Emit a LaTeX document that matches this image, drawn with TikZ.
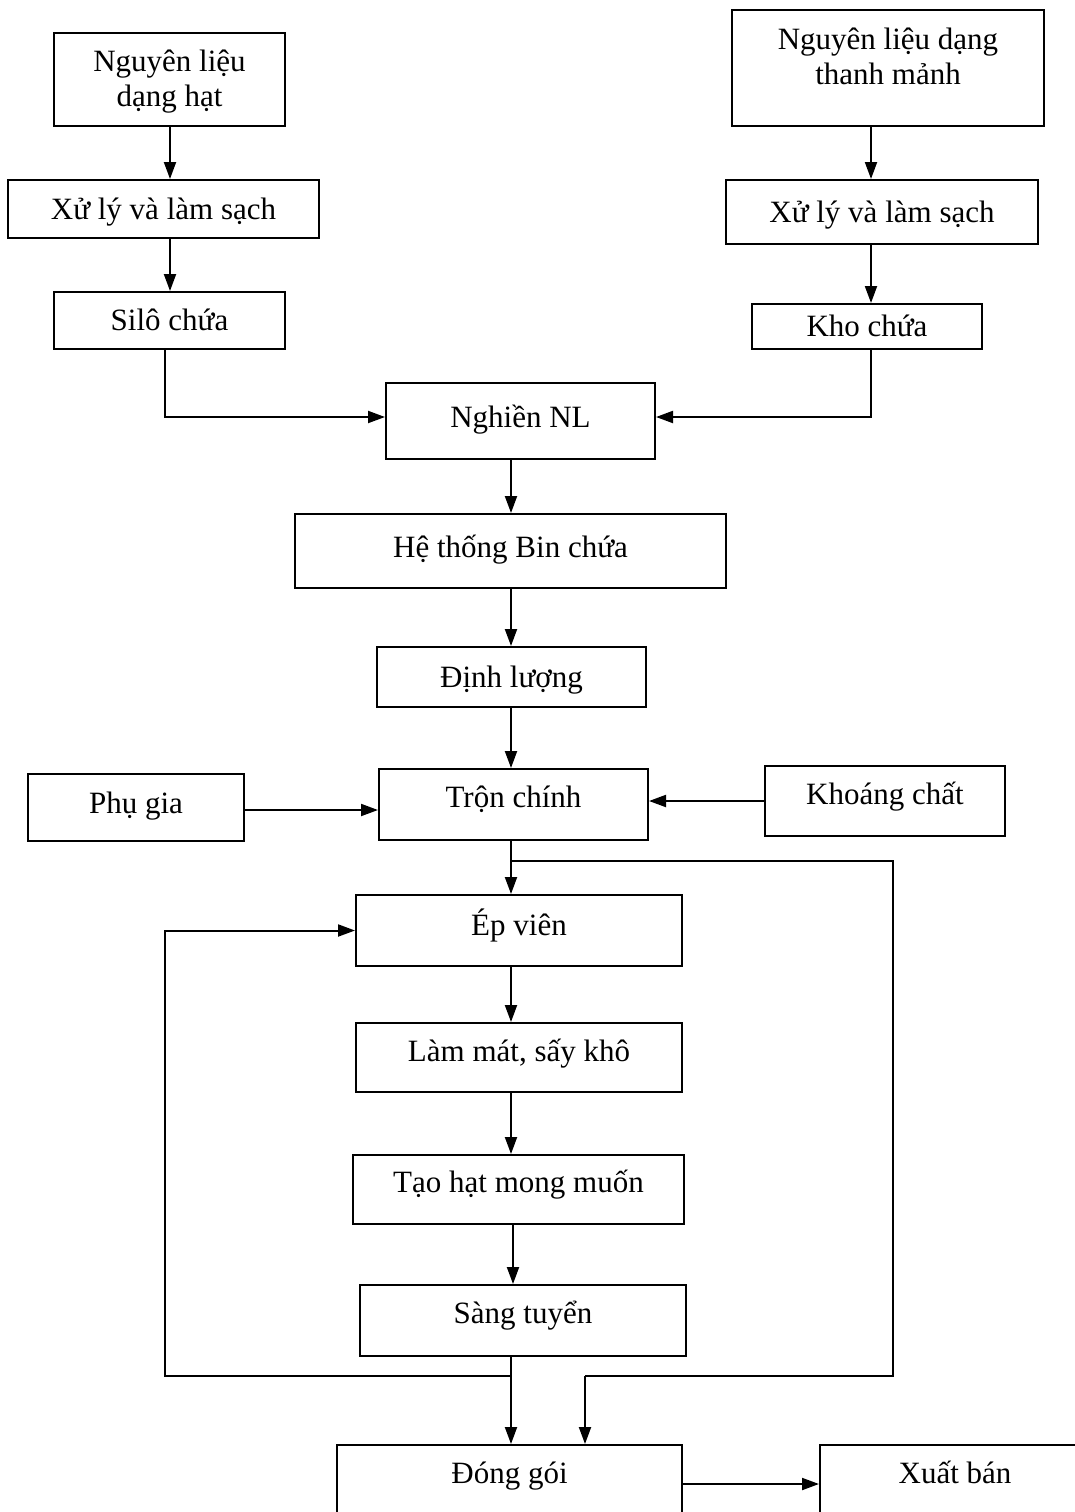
\documentclass[tikz,border=0pt]{standalone}
\usepackage{fontspec}
\setmainfont{Liberation Serif}
\usetikzlibrary{arrows.meta}
\begin{document}
\begin{tikzpicture}[x=1pt,y=-1pt,
  box/.style={draw, line width=2pt, inner sep=0pt, text height=27pt, text depth=7pt,
    font=\fontsize{31}{35}\selectfont},
  twoline/.style={draw, line width=2pt, inner sep=0pt, align=center,
    font=\fontsize{31}{35}\selectfont},
  raisetext/.style={text depth=#1},
  conn/.style={line width=2pt},
  arr/.style={line width=2pt, -{Triangle[length=17pt,width=12pt]}}]
\useasboundingbox (0,0) rectangle (1075,1512);
% nodes
\node[twoline, minimum width=231, minimum height=93,
  label={[yshift=-2.5pt, align=center, font=\fontsize{31}{35}\selectfont]center:Nguyên liệu\\dạng hạt}]
  (b1) at (169.5,79.5) {};
\node[twoline, minimum width=312, minimum height=116,
  label={[yshift=12pt, align=center, font=\fontsize{31}{35}\selectfont]center:Nguyên liệu dạng\\thanh mảnh}]
  (b2) at (888,68) {};
\node[box, minimum width=311, minimum height=58] (b3) at (163.5,209) {Xử lý và làm sạch};
\node[box, minimum width=312, minimum height=64] (b4) at (882,212) {Xử lý và làm sạch};
\node[box, minimum width=231, minimum height=57] (b5) at (169.5,320.5) {Silô chứa};
\node[box, minimum width=230, minimum height=45] (b6) at (867,326.5) {Kho chứa};
\node[box, raisetext=15pt, minimum width=269, minimum height=76] (b7) at (520.5,421) {Nghiền NL};
\node[box, raisetext=15pt, minimum width=431, minimum height=74] (b8) at (510.5,551) {Hệ thống Bin chứa};
\node[box, minimum width=269, minimum height=60] (b9) at (511.5,677) {Định lượng};
\node[box, raisetext=21pt, minimum width=269, minimum height=71] (b10) at (513.5,804.5) {Trộn chính};
\node[box, raisetext=16pt, minimum width=216, minimum height=67] (pg) at (136,807.5) {Phụ gia};
\node[box, raisetext=21pt, minimum width=240, minimum height=70] (kc) at (885,801) {Khoáng chất};
\node[box, raisetext=18pt, minimum width=326, minimum height=71] (ep) at (519,930.5) {Ép viên};
\node[box, raisetext=20pt, minimum width=326, minimum height=69] (lm) at (519,1057.5) {Làm mát, sấy khô};
\node[box, raisetext=22pt, minimum width=331, minimum height=69] (th) at (518.5,1189.5) {Tạo hạt mong muốn};
\node[box, raisetext=22pt, minimum width=326, minimum height=71] (st) at (523,1320.5) {Sàng tuyển};
\node[box, raisetext=71pt, minimum width=345, minimum height=120] (dg) at (509.5,1505) {Đóng gói};
\node[box, raisetext=71pt, minimum width=270, minimum height=120] (xb) at (955,1505) {Xuất bán};
% helper coordinates
\coordinate (lx) at (170,0);
\coordinate (lx2) at (165,0);
\coordinate (rx) at (871,0);
\coordinate (cx) at (511,0);
\coordinate (cx2) at (513,0);
\coordinate (j1) at (511,861);
\coordinate (rr) at (893,1376);
\coordinate (j2) at (585,1376);
\coordinate (j3) at (511,1376);
\coordinate (ll) at (165,1376);
\coordinate (ay) at (0,1484);
% connectors
\draw[arr] (b1.south -| lx) -- (b3.north -| lx);
\draw[arr] (b3.south -| lx) -- (b5.north -| lx);
\draw[arr] (b2.south -| rx) -- (b4.north -| rx);
\draw[arr] (b4.south -| rx) -- (b6.north -| rx);
\draw[arr] (b5.south -| lx2) |- ([yshift=4pt]b7.west);
\draw[arr] (b6.south -| rx) |- ([yshift=4pt]b7.east);
\draw[arr] (b7.south -| cx) -- (b8.north -| cx);
\draw[arr] (b8.south -| cx) -- (b9.north -| cx);
\draw[arr] (b9.south -| cx) -- (b10.north -| cx);
\draw[arr] ([yshift=-2.5pt]pg.east) -- ([yshift=-2.5pt]pg.east -| b10.west);
\draw[arr] (kc.west) -- (kc.west -| b10.east);
\draw[arr] (b10.south -| cx) -- (ep.north -| cx);
\draw[arr] (ep.south -| cx) -- (lm.north -| cx);
\draw[arr] (lm.south -| cx) -- (th.north -| cx);
\draw[arr] (th.south -| cx2) -- (st.north -| cx2);
\draw[arr] (st.south -| cx) -- (dg.north -| cx);
\draw[conn] (j1) -| (rr) -- (j2);
\draw[arr] (j2) -- (j2 |- dg.north);
\draw[arr] (j3) -- (ll) |- (ep.west);
\draw[arr] (ay -| dg.east) -- (ay -| xb.west);
\end{tikzpicture}
\end{document}
